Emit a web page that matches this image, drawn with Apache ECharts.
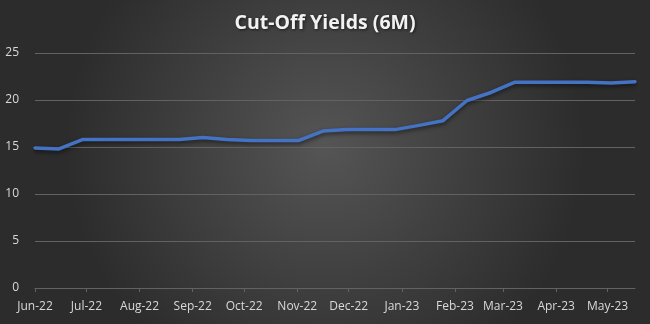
<!DOCTYPE html>
<html>
<head>
<meta charset="utf-8">
<script src="https://cdn.jsdelivr.net/npm/echarts@6/dist/echarts.min.js"></script>
<style>
html,body{margin:0;padding:0;background:#3a3a3a;}
#chart{width:650px;height:324px;}
</style>
</head>
<body>
<div id="chart"></div>
<script>
var titleText = 'Cut-Off Yields (6M)';
var dates = ['2022-06-01','2022-06-15','2022-06-29','2022-07-13','2022-07-27','2022-08-10','2022-08-24',
  '2022-09-07','2022-09-21','2022-10-05','2022-10-19','2022-11-02','2022-11-16','2022-11-30',
  '2022-12-14','2022-12-28','2023-01-11','2023-01-25','2023-02-08','2023-02-22','2023-03-08',
  '2023-03-22','2023-04-05','2023-04-19','2023-05-03','2023-05-17'];
var yields = [14.9,14.8,15.8,15.8,15.8,15.8,15.8,16.0,15.8,15.7,15.7,15.7,16.7,16.85,16.85,16.85,17.3,17.8,19.95,20.8,21.9,21.9,21.9,21.9,21.8,21.95];
var monthNames = ['Jan','Feb','Mar','Apr','May','Jun','Jul','Aug','Sep','Oct','Nov','Dec'];

var chart = echarts.init(document.getElementById('chart'), null, {renderer:'canvas'});
var seriesData = dates.map(function(d,i){ return [d, yields[i]]; });
chart.setOption({
  backgroundColor: new echarts.graphic.RadialGradient(0.5, 0.45, 0.8, [
    {offset:0, color:'#555555'},
    {offset:1, color:'#2c2c2c'}
  ]),
  animation:false,
  title:{
    text:titleText, left:'center', top:8,
    textStyle:{color:'#f2f2f2', fontFamily:'Open Sans', fontWeight:'bold', fontSize:19.5,
      textShadowColor:'rgba(0,0,0,0.6)', textShadowBlur:3, textShadowOffsetX:1, textShadowOffsetY:1}
  },
  grid:{left:35, right:15, top:53, bottom:36, containLabel:false},
  xAxis:{
    type:'time',
    min:dates[0], max:dates[dates.length-1],
    minInterval:28*86400000, maxInterval:31*86400000,
    axisLine:{show:true, lineStyle:{color:'#626262', width:1}},
    axisTick:{show:true, length:4, lineStyle:{color:'#626262'}},
    splitLine:{show:false},
    axisLabel:{
      color:'#d9d9d9', fontFamily:'Open Sans', fontSize:12, margin:13,
      hideOverlap:false,
      formatter:function(v){ var d=new Date(v); return monthNames[d.getMonth()]+'-'+String(d.getFullYear()).slice(2); }
    }
  },
  yAxis:{
    type:'value', min:0, max:25, interval:5,
    axisLine:{show:false}, axisTick:{show:false},
    splitLine:{lineStyle:{color:'#626262', width:1}},
    axisLabel:{color:'#d9d9d9', fontFamily:'Open Sans', fontSize:12, margin:16}
  },
  series:[{
    type:'line', data:seriesData, symbol:'none', smooth:false,
    lineStyle:{color:'#4472C4', width:3.5, shadowColor:'rgba(0,0,0,0.55)', shadowBlur:4, shadowOffsetY:2, cap:'round', join:'round'}
  }]
});
</script>
</body>
</html>
